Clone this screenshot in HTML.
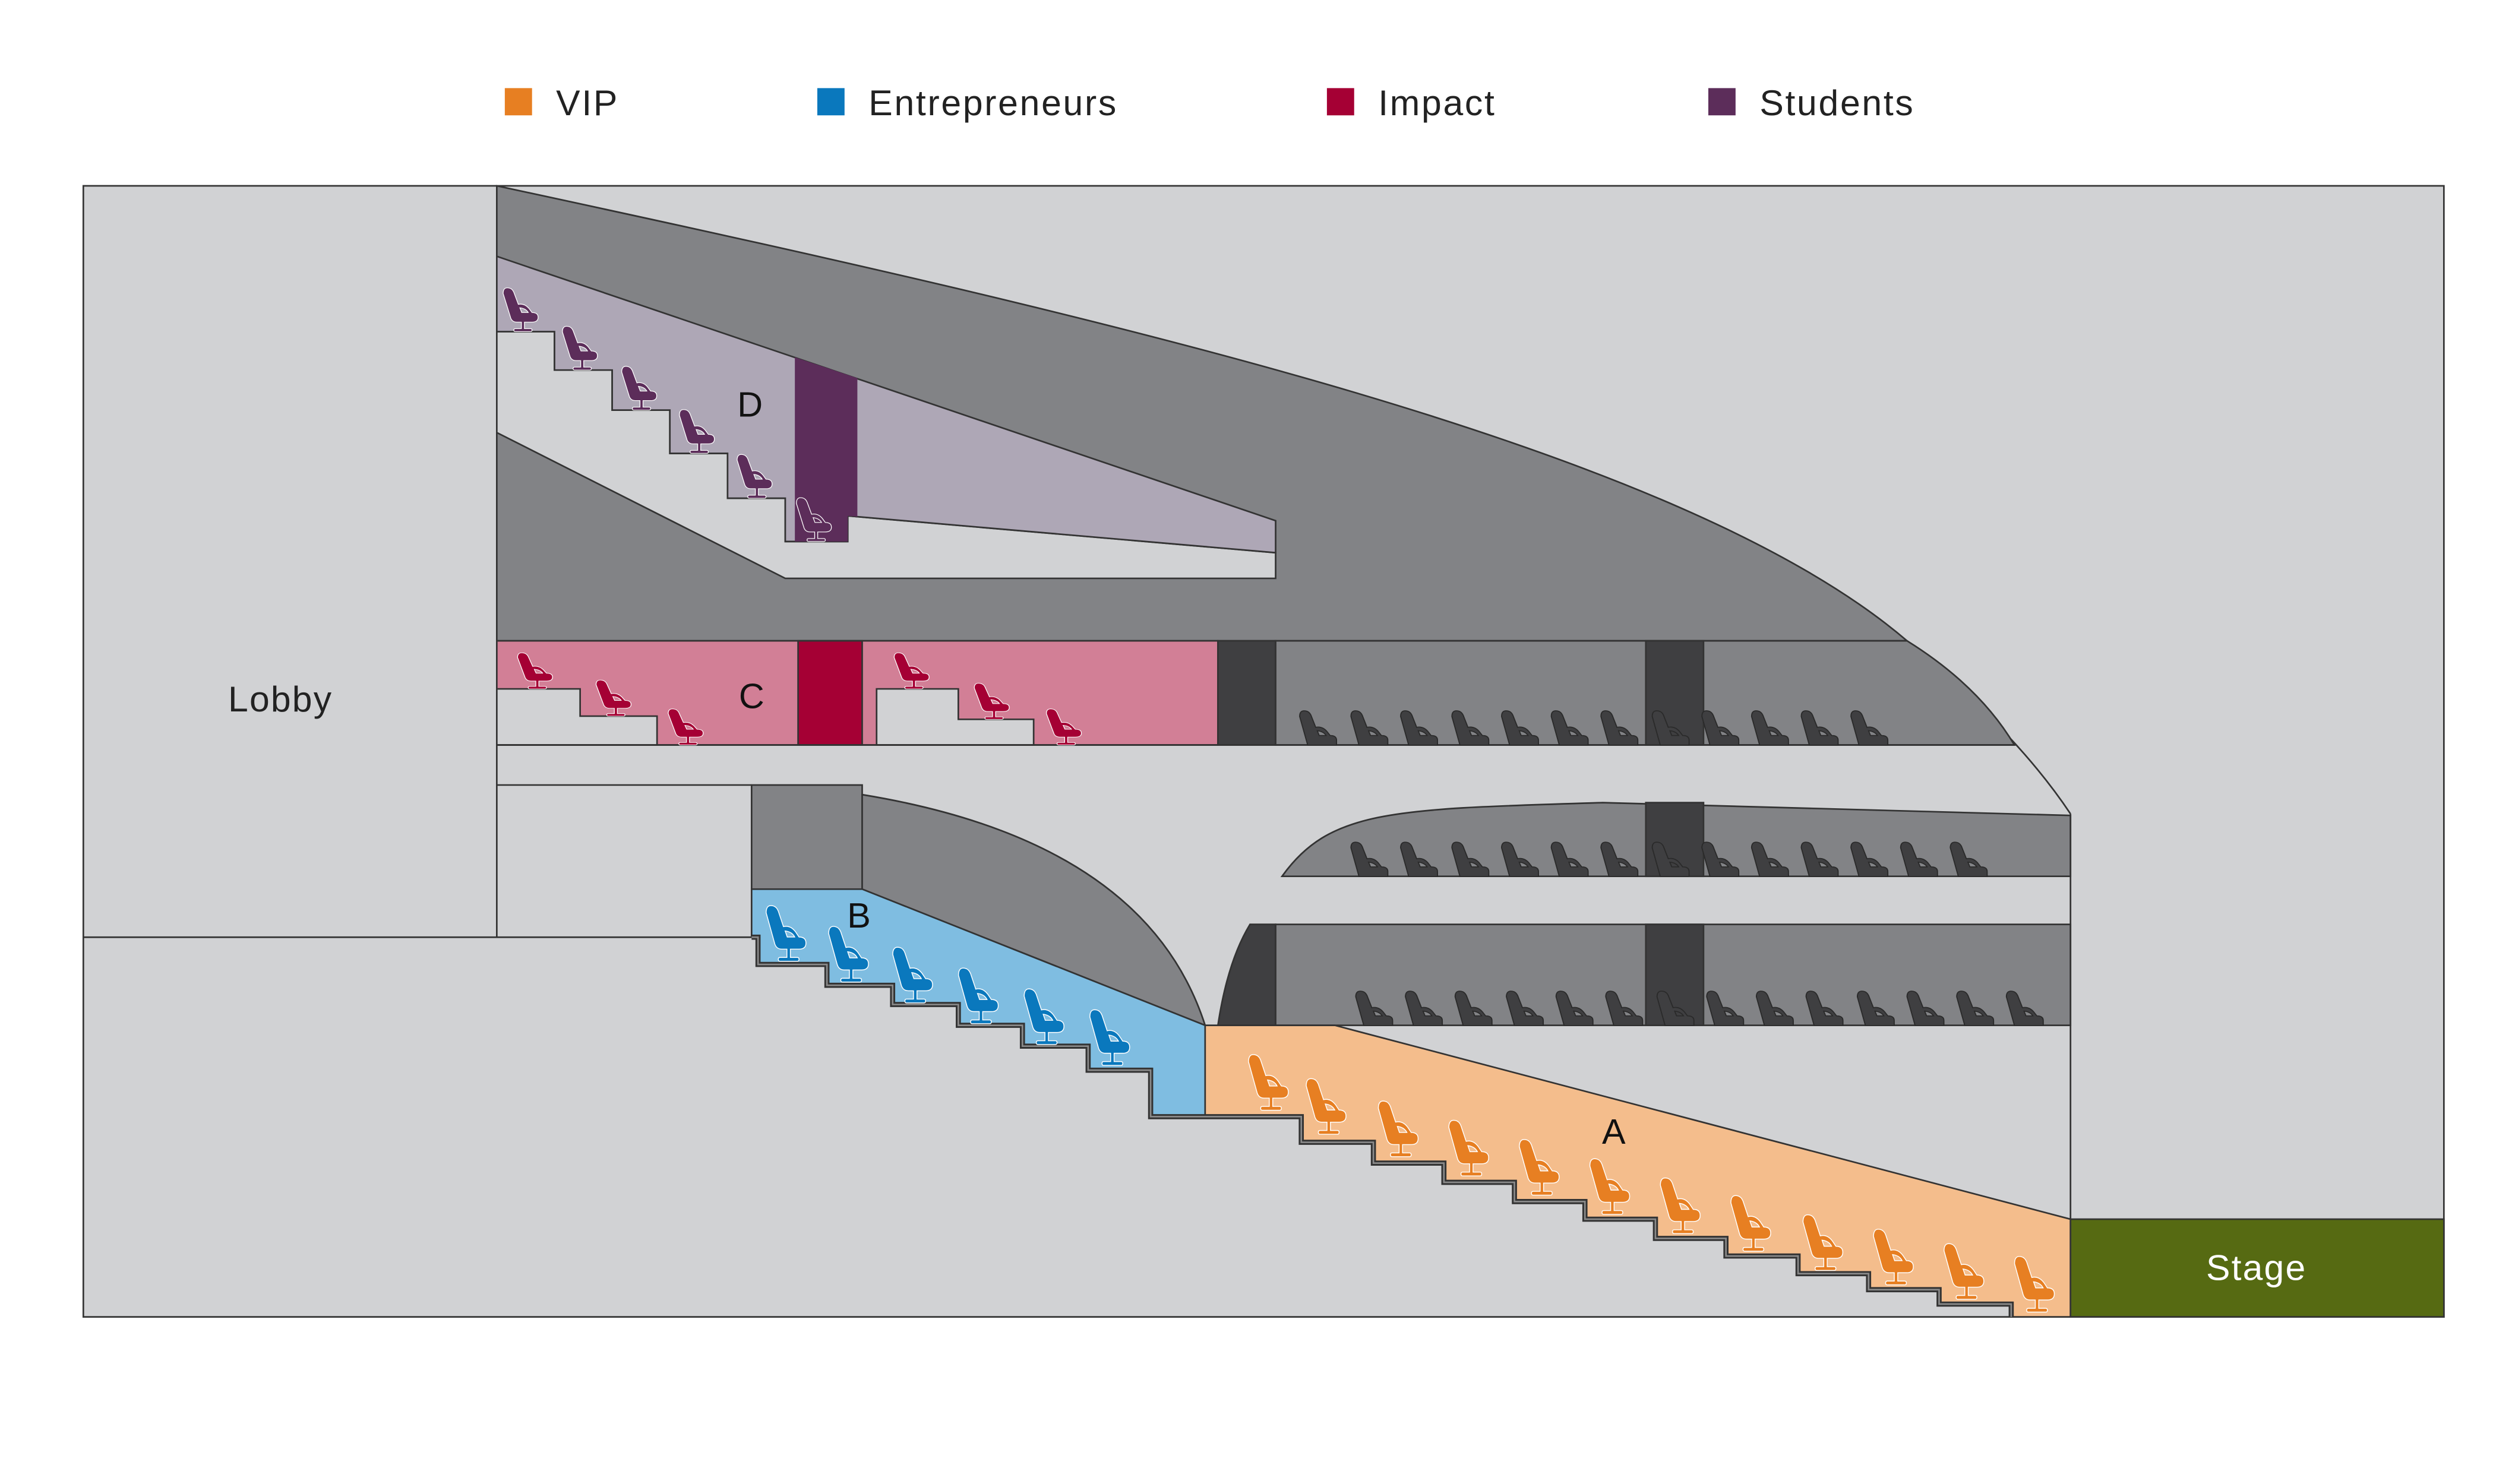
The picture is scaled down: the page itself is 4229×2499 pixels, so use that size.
<!DOCTYPE html>
<html><head><meta charset="utf-8"><style>html,body{margin:0;padding:0;background:#fff}svg{display:block}</style></head>
<body>
<svg width="4229" height="2499" viewBox="0 0 1567.5 926.3" preserveAspectRatio="none" xmlns="http://www.w3.org/2000/svg" font-family="'Liberation Sans', sans-serif">
<defs>
<path id="chair" fill-rule="evenodd" d="M1,-28 Q1,-33 5,-32 Q7,-31.5 8,-29 L11,-20 Q15,-21 18,-17 L20,-14 Q24,-14 24,-10.5 Q24,-7 20,-7 L15,-7 L15,-2.2 L19,-2.2 Q20,-2.2 20,-1.1 Q20,0 19,0 L9,0 Q8,0 8,-1.1 Q8,-2.2 9,-2.2 L13,-2.2 L13,-7 L10,-7 Q7,-7 6,-10 Z M12,-17.5 L13.2,-14 L17.5,-14 Q16,-17 12,-17.5 Z"/>
<path id="dchair" fill-rule="evenodd" d="M1,-28 Q1,-33 5,-32 Q7,-31.5 8,-29 L11,-20 Q15,-21 18,-17 L20,-14 Q24,-14 24,-10.5 L24,-7 L6,-7 Z M12,-17.5 L13.2,-14 L17.5,-14 Q16,-17 12,-17.5 Z"/>
</defs>

<g font-size="22.5" fill="#222" letter-spacing="1">
<rect x="315" y="55" width="17" height="17" fill="#e77f22"/><text x="347" y="72">VIP</text>
<rect x="510" y="55" width="17" height="17" fill="#0a78bd"/><text x="542" y="72">Entrepreneurs</text>
<rect x="828" y="55" width="17" height="17" fill="#a50034"/><text x="860" y="72">Impact</text>
<rect x="1066" y="55" width="17" height="17" fill="#5c2d5a"/><text x="1098" y="72">Students</text>
</g>

<g stroke="#333" stroke-width="1">
<rect x="52" y="116" width="1473" height="706" fill="#d1d2d4"/>
<line x1="310" y1="116" x2="310" y2="585"/>
<line x1="52" y1="585" x2="469" y2="585"/>

<path d="M310,116 C700,200 1050,280 1190,400 L310,400 Z" fill="#828386"/>
<path d="M1190,400 C1240,443 1270,475 1292,508" fill="none"/>

<path d="M310,207 L346,207 L346,231 L382,231 L382,256 L418,256 L418,283 L454,283 L454,311 L490,311 L490,338 L529,338 L529,322 L796,345 L796,361 L490,361 L310,270 Z" fill="#d1d2d4"/>
<path d="M310,160 L796,325 L796,345 L529,322 L529,338 L490,338 L490,311 L454,311 L454,283 L418,283 L418,256 L382,256 L382,231 L346,231 L346,207 L310,207 Z" fill="#aea7b6"/>
<path d="M496,223 L535,236 L535,322.5 L529,322 L529,338 L496,338 Z" fill="#5c2d5a" stroke="none"/>

<rect x="310" y="400" width="450" height="65" fill="#d27f96"/>
<rect x="498" y="400" width="40" height="65" fill="#a50034"/>
<path d="M310,430 L362,430 L362,447 L410,447 L410,465 L310,465 Z" fill="#d1d2d4"/>
<path d="M547,430 L598,430 L598,449 L645,449 L645,465 L547,465 Z" fill="#d1d2d4"/>
<rect x="760" y="400" width="36" height="65" fill="#3f3f41"/>
<path d="M796,400 L1190,400 Q1235,428 1257,465 L796,465 Z" fill="#828386"/>
<rect x="1027" y="400" width="36" height="65" fill="#3f3f41"/>
<line x1="310" y1="465" x2="1257" y2="465"/>
<line x1="310" y1="490" x2="469" y2="490"/>

<rect x="469" y="490" width="69" height="65" fill="#828386"/>
<path d="M538,496 Q715,525 752,640 L538,555 Z" fill="#828386"/>
<path d="M469,555 L538,555 L752,640 L752,697 L718,697 L718,668 L679,668 L679,653 L638,653 L638,640 L598,640 L598,627 L557,627 L557,615 L516,615 L516,602 L473,602 L473,585 L469,585 Z" fill="#7fbde1"/>

<path d="M800,547 C830,505 870,505 1000,501 L1292,509 L1292,547 Z" fill="#828386"/>
<rect x="1027" y="501" width="36" height="46" fill="#3f3f41"/>
<path d="M760,640 Q766,600 780,577 L796,577 L796,640 Z" fill="#3f3f41"/>
<rect x="796" y="577" width="496" height="63" fill="#828386"/>
<rect x="1027" y="577" width="36" height="63" fill="#3f3f41"/>
<line x1="1292" y1="508" x2="1292" y2="761"/>

<path d="M752,640 L833,640 L1292,761 L1292,822 L1255,822 L1255,814 L1210,814 L1210,805 L1166,805 L1166,795 L1122,795 L1122,784 L1077,784 L1077,773 L1033,773 L1033,761 L989,761 L989,750 L945,750 L945,738 L901,738 L901,726 L857,726 L857,713 L812,713 L812,697 L752,697 Z" fill="#f4bd8c"/>

<rect x="1292" y="761" width="233" height="61" fill="#566a12"/>
</g>

<path d="M469,585 L473,585 L473,602 L516,602 L516,615 L557,615 L557,627 L598,627 L598,640 L638,640 L638,653 L679,653 L679,668 L718,668 L718,697 L812,697 L812,713 L857,713 L857,726 L901,726 L901,738 L945,738 L945,750 L989,750 L989,761 L1033,761 L1033,773 L1077,773 L1077,784 L1122,784 L1122,795 L1166,795 L1166,805 L1210,805 L1210,814 L1255,814 L1255,822" fill="none" stroke="#333" stroke-width="3.2"/>
<path d="M469,585 L473,585 L473,602 L516,602 L516,615 L557,615 L557,627 L598,627 L598,640 L638,640 L638,653 L679,653 L679,668 L718,668 L718,697 L812,697 L812,713 L857,713 L857,726 L901,726 L901,738 L945,738 L945,750 L989,750 L989,761 L1033,761 L1033,773 L1077,773 L1077,784 L1122,784 L1122,795 L1166,795 L1166,805 L1210,805 L1210,814 L1255,814 L1255,822" fill="none" stroke="#8a8a8a" stroke-width="1"/>

<g fill="#5c2d5a" stroke="#fff" stroke-width="0.5">
<use href="#chair" transform="translate(313,207) scale(0.95,0.85)"/>
<use href="#chair" transform="translate(350,231) scale(0.95,0.85)"/>
<use href="#chair" transform="translate(387,256) scale(0.95,0.85)"/>
<use href="#chair" transform="translate(423,283) scale(0.95,0.85)"/>
<use href="#chair" transform="translate(459,311) scale(0.95,0.85)"/>
<use href="#chair" transform="translate(496,338) scale(0.95,0.85)"/>
</g>
<g fill="#a50034" stroke="#fff" stroke-width="0.5">
<use href="#chair" transform="translate(322,430) scale(0.95,0.7)"/>
<use href="#chair" transform="translate(371,447) scale(0.95,0.7)"/>
<use href="#chair" transform="translate(416,465) scale(0.95,0.7)"/>
<use href="#chair" transform="translate(557,430) scale(0.95,0.7)"/>
<use href="#chair" transform="translate(607,449) scale(0.95,0.7)"/>
<use href="#chair" transform="translate(652,465) scale(0.95,0.7)"/>
</g>
<g fill="#0a78bd" stroke="#fff" stroke-width="0.5">
<use href="#chair" transform="translate(477,600) scale(1.08)"/>
<use href="#chair" transform="translate(516,613) scale(1.08)"/>
<use href="#chair" transform="translate(556,626) scale(1.08)"/>
<use href="#chair" transform="translate(597,639) scale(1.08)"/>
<use href="#chair" transform="translate(638,652) scale(1.08)"/>
<use href="#chair" transform="translate(679,665) scale(1.08)"/>
</g>
<g fill="#e77f22" stroke="#fff" stroke-width="0.5">
<use href="#chair" transform="translate(778,693) scale(1.08)"/>
<use href="#chair" transform="translate(814,708) scale(1.08)"/>
<use href="#chair" transform="translate(859,722) scale(1.08)"/>
<use href="#chair" transform="translate(903,734) scale(1.08)"/>
<use href="#chair" transform="translate(947,746) scale(1.08)"/>
<use href="#chair" transform="translate(991,758) scale(1.08)"/>
<use href="#chair" transform="translate(1035,770) scale(1.08)"/>
<use href="#chair" transform="translate(1079,781) scale(1.08)"/>
<use href="#chair" transform="translate(1124,793) scale(1.08)"/>
<use href="#chair" transform="translate(1168,802) scale(1.08)"/>
<use href="#chair" transform="translate(1212,811) scale(1.08)"/>
<use href="#chair" transform="translate(1256,819) scale(1.08)"/>
</g>
<g fill="#3f3f41" stroke="#2a2a2a" stroke-width="0.7">
<g transform="translate(0,471) scale(1,0.85)">
<use href="#dchair" x="810"/><use href="#dchair" x="842"/><use href="#dchair" x="873"/><use href="#dchair" x="905"/><use href="#dchair" x="936"/><use href="#dchair" x="967"/><use href="#dchair" x="998"/><use href="#dchair" x="1030"/><use href="#dchair" x="1061"/><use href="#dchair" x="1092"/><use href="#dchair" x="1123"/><use href="#dchair" x="1154"/>
</g>
<g transform="translate(0,553) scale(1,0.85)">
<use href="#dchair" x="842"/><use href="#dchair" x="873"/><use href="#dchair" x="905"/><use href="#dchair" x="936"/><use href="#dchair" x="967"/><use href="#dchair" x="998"/><use href="#dchair" x="1030"/><use href="#dchair" x="1061"/><use href="#dchair" x="1092"/><use href="#dchair" x="1123"/><use href="#dchair" x="1154"/><use href="#dchair" x="1185"/><use href="#dchair" x="1216"/>
</g>
<g transform="translate(0,646) scale(1,0.85)">
<use href="#dchair" x="845"/><use href="#dchair" x="876"/><use href="#dchair" x="907"/><use href="#dchair" x="939"/><use href="#dchair" x="970"/><use href="#dchair" x="1001"/><use href="#dchair" x="1033"/><use href="#dchair" x="1064"/><use href="#dchair" x="1095"/><use href="#dchair" x="1126"/><use href="#dchair" x="1158"/><use href="#dchair" x="1189"/><use href="#dchair" x="1220"/><use href="#dchair" x="1251"/>
</g>
</g>

<g font-size="22" fill="#111" text-anchor="middle">
<text x="468" y="260">D</text>
<text x="469" y="442">C</text>
<text x="536" y="579">B</text>
<text x="1007" y="714">A</text>
</g>
<text x="175" y="444" font-size="22.5" fill="#222" text-anchor="middle" letter-spacing="0.8">Lobby</text>
<text x="1408" y="799" font-size="22.5" fill="#fff" text-anchor="middle" letter-spacing="0.8">Stage</text>
</svg>
</body></html>
